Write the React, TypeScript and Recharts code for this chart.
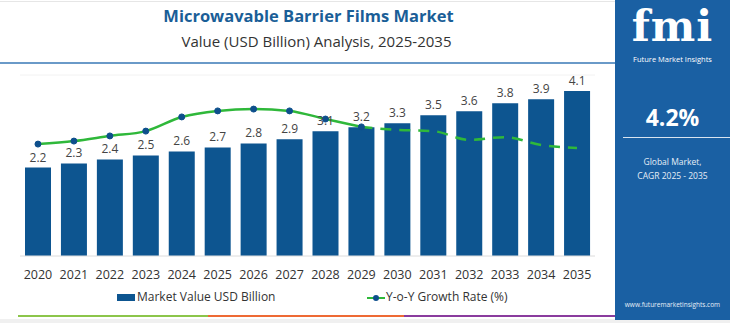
import { ComposedChart, Bar, Line, XAxis, YAxis, CartesianGrid, LabelList } from 'recharts';

const years = ['2020', '2021', '2022', '2023', '2024', '2025', '2026', '2027', '2028', '2029', '2030', '2031', '2032', '2033', '2034', '2035'];
const marketValue = [2.2, 2.3, 2.4, 2.5, 2.6, 2.7, 2.8, 2.9, 3.1, 3.2, 3.3, 3.5, 3.6, 3.8, 3.9, 4.1];
const growthRate = [3.71, 3.81, 3.98, 4.14, 4.61, 4.81, 4.87, 4.81, 4.54, 4.28, 4.18, 4.14, 3.85, 3.94, 3.68, 3.58];
// last historical-style year, after this the line is drawn dashed
const splitYear = '2029';

const font = '"Open Sans", sans-serif';
const barColor = '#0d5590';
const lineColor = '#2fb83a';
const panelColor = '#1a60a3';

const splitIdx = years.indexOf(splitYear);
const data = years.map((y, i) => ({
  year: y,
  value: marketValue[i],
  actual: i <= splitIdx ? growthRate[i] : null,
  forecast: i >= splitIdx ? growthRate[i] : null,
}));

export default function App() {
  return (
    <div style={{ position: 'absolute', left: 0, top: 0, width: 730, height: 323, background: '#fff', fontFamily: font, overflow: 'hidden' }}>
      <div style={{ position: 'absolute', left: 0, top: 1, width: 730, height: 1, background: '#e6e6e6' }} />
      <div style={{ position: 'absolute', left: 0, top: 4, width: 617, textAlign: 'center', fontSize: 16.5, fontWeight: 700, color: '#1a5e97' }}>
        Microwavable Barrier Films Market
      </div>
      <div style={{ position: 'absolute', left: 8, top: 31, width: 617, textAlign: 'center', fontSize: 15, color: '#333' }}>
        Value (USD Billion) Analysis, 2025-2035
      </div>
      <div style={{ position: 'absolute', left: 0, top: 62, width: 617, height: 2, background: '#6a9ac8' }} />

      <div style={{ position: 'absolute', left: 0, top: 0 }}>
        <ComposedChart width={615} height={323} data={data} margin={{ top: 75, right: 20, left: 20, bottom: 37 }} barCategoryGap={10}>
          <CartesianGrid vertical={false} stroke="#f2f2f2" />
          <XAxis
            dataKey="year"
            height={30}
            interval={0}
            tick={{ fontSize: 12.5, fill: '#333', fontFamily: font }}
            axisLine={{ stroke: '#e2e2e2' }}
            tickLine={false}
            tickMargin={8}
          />
          <YAxis yAxisId="left" hide domain={[0, 4.5]} ticks={[0, 0.9, 1.8, 2.7, 3.6, 4.5]} />
          <YAxis yAxisId="right" orientation="right" hide domain={[0, 6]} />
          <Bar yAxisId="left" dataKey="value" fill={barColor} barSize={26} isAnimationActive={false}>
            <LabelList dataKey="value" position="top" offset={6} style={{ fontSize: 12, fill: '#444', fontFamily: font }} />
          </Bar>
          <Line
            yAxisId="right"
            type="monotone"
            dataKey="actual"
            stroke={lineColor}
            strokeWidth={2.5}
            dot={{ r: 3, fill: '#0d4f8c', stroke: '#0d4f8c', strokeWidth: 1 }}
            connectNulls={false}
            isAnimationActive={false}
          />
          <Line
            yAxisId="right"
            type="monotone"
            dataKey="forecast"
            stroke={lineColor}
            strokeWidth={2.5}
            strokeDasharray="11 8"
            dot={false}
            connectNulls={false}
            isAnimationActive={false}
          />
        </ComposedChart>
      </div>

      {/* legend */}
      <div style={{ position: 'absolute', left: 117, top: 294, width: 18, height: 7, background: barColor }} />
      <div style={{ position: 'absolute', left: 137, top: 288, fontSize: 12, color: '#333' }}>Market Value USD Billion</div>
      <div style={{ position: 'absolute', left: 367, top: 297, width: 18, height: 2, background: lineColor }} />
      <div style={{ position: 'absolute', left: 373, top: 295, width: 6, height: 6, borderRadius: 3, background: '#0d4f8c' }} />
      <div style={{ position: 'absolute', left: 386, top: 288, fontSize: 12, color: '#333' }}>Y-o-Y Growth Rate (%)</div>

      {/* bottom stripe */}
      <div style={{ position: 'absolute', left: 18, top: 315, width: 190, height: 2, background: '#8cc54a' }} />
      <div style={{ position: 'absolute', left: 208, top: 315, width: 196, height: 2, background: '#ee6a35' }} />
      <div style={{ position: 'absolute', left: 404, top: 315, width: 212, height: 2, background: '#8a3c9e' }} />
      <div style={{ position: 'absolute', left: 0, top: 319, width: 730, height: 4, background: '#f0f0f0' }} />

      {/* right panel */}
      <div style={{ position: 'absolute', left: 615, top: 0, width: 115, height: 320, background: panelColor, color: '#fff', textAlign: 'center' }}>
        <div style={{ position: 'absolute', left: 0, top: 6, width: 115, fontSize: 42, fontWeight: 700, fontFamily: '"DejaVu Serif", serif', lineHeight: '42px', letterSpacing: 1 }}>fmi</div>
        <div style={{ position: 'absolute', left: 0, top: 54, width: 115, fontSize: 7.5, lineHeight: '10px' }}>Future Market Insights</div>
        <div style={{ position: 'absolute', left: 0, top: 101, width: 115, fontSize: 23, fontWeight: 700 }}>4.2%</div>
        <div style={{ position: 'absolute', left: 8, top: 137, width: 107, height: 1, background: '#d8e4f0' }} />
        <div style={{ position: 'absolute', left: 0, top: 155, width: 115, fontSize: 8.5, lineHeight: '14px', color: '#e6eef7' }}>
          Global Market,<br />CAGR 2025 - 2035
        </div>
        <div style={{ position: 'absolute', left: 0, top: 300, width: 115, fontSize: 6.5, color: '#e6eef7' }}>www.futuremarketinsights.com</div>
      </div>
    </div>
  );
}
